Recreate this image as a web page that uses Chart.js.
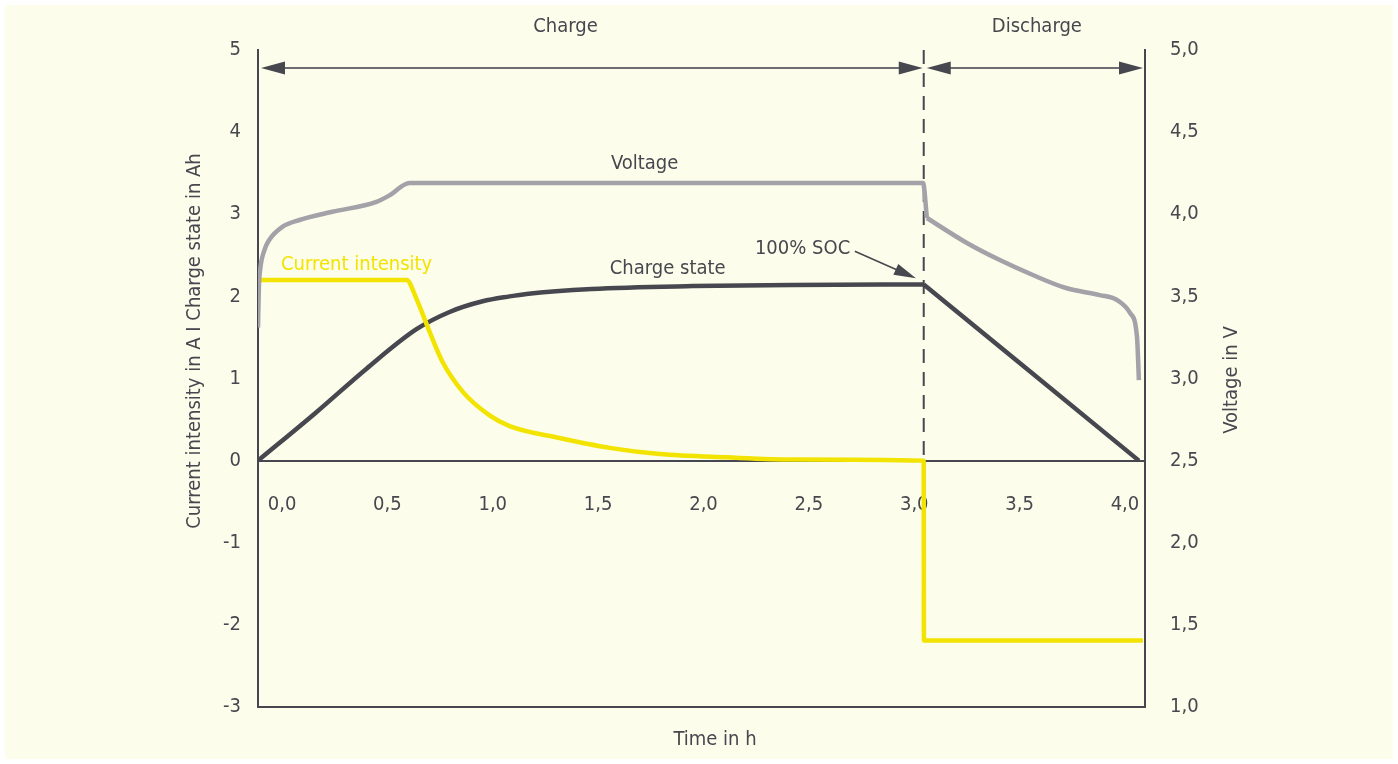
<!DOCTYPE html>
<html>
<head>
<meta charset="utf-8">
<script src="https://cdn.jsdelivr.net/npm/chart.js@4.4.1/dist/chart.umd.min.js"></script>
<style>
  html, body { margin: 0; padding: 0; background: #ffffff; }
  #paper { position: absolute; left: 5px; top: 5px; width: 1388px; height: 754px; background: #fcfdea; }
  #box { position: absolute; left: 0; top: 0; width: 1398px; height: 764px; }
</style>
</head>
<body>
<div id="paper"></div>
<div id="box"><canvas id="chart"></canvas></div>
<script>
// time axis ticks (h)
const timeTicks = [0, 0.5, 1, 1.5, 2, 2.5, 3, 3.5, 4];

// current intensity in A
const currentT = [-0.114, 0.591, 0.638, 0.70, 0.762, 0.857, 0.985, 1.08, 1.317, 1.554, 1.792, 2.11, 2.423, 3.045, 3.046, 4.085];
const currentA = [2.2, 2.2, 1.97, 1.57, 1.20, 0.84, 0.55, 0.42, 0.275, 0.155, 0.08, 0.04, 0.015, 0, -2.19, -2.19];

// charge state in Ah (charging, then discharging)
const stateT = [-0.114, 0.163, 0.401, 0.638, 0.795, 0.952, 1.08, 1.16, 1.47, 1.95, 2.42, 3.045];
const stateAh = [0, 0.59, 1.12, 1.60, 1.81, 1.94, 2.00, 2.03, 2.09, 2.125, 2.14, 2.145];
const dischargeT = [3.045, 4.066];
const dischargeAh = [2.145, 0];

// voltage in V (charging, then discharging)
const voltT = [-0.114, -0.110, -0.104, -0.084, -0.06, 0.0, 0.083, 0.239, 0.448, 0.51, 0.605, 3.042, 3.06];
const voltV = [3.31, 3.55, 3.66, 3.78, 3.845, 3.922, 3.965, 4.015, 4.075, 4.115, 4.19, 4.19, 3.977];
const voltDisT = [3.06, 3.25, 3.406, 3.563, 3.72, 3.88, 3.962, 4.024, 4.057, 4.066];
const voltDisV = [3.977, 3.825, 3.721, 3.63, 3.551, 3.508, 3.478, 3.399, 3.253, 2.99];

const switchT = 3.045;

const ink = '#47474f';
const yellow = '#f2e300';
const grey = '#a2a2a8';
const fontFamily = '"Liberation Sans Narrow", "DejaVu Sans Condensed", Roboto, sans-serif';

function pts(xs, ys) {
  return xs.map((x, i) => ({ x: x, y: ys[i] }));
}
function comma(v) {
  return v.toFixed(1).replace('.', ',');
}

function arrowHead(ctx, tipX, y, dir) {
  ctx.beginPath();
  ctx.moveTo(tipX, y);
  ctx.lineTo(tipX - dir * 24, y - 6.5);
  ctx.lineTo(tipX - dir * 24, y + 6.5);
  ctx.closePath();
  ctx.fill();
}

const decor = {
  id: 'decor',
  beforeDatasetsDraw(chart) {
    const ctx = chart.ctx, x = chart.scales.x, y = chart.scales.y;
    const px = x.getPixelForValue(switchT);
    ctx.save();
    ctx.strokeStyle = ink;
    ctx.lineWidth = 2;
    ctx.setLineDash([14, 9]);
    ctx.beginPath();
    ctx.moveTo(px, chart.chartArea.top);
    ctx.lineTo(px, y.getPixelForValue(0));
    ctx.stroke();
    ctx.restore();
  },
  afterDraw(chart) {
    const ctx = chart.ctx, x = chart.scales.x, y = chart.scales.y;
    const area = chart.chartArea;
    const px = x.getPixelForValue(switchT);
    ctx.save();

    // phase arrows
    const ay = area.top + 18;
    ctx.strokeStyle = '#6e6e72';
    ctx.lineWidth = 2;
    ctx.beginPath();
    ctx.moveTo(area.left + 10, ay);
    ctx.lineTo(px - 10, ay);
    ctx.moveTo(px + 10, ay);
    ctx.lineTo(area.right - 10, ay);
    ctx.stroke();
    ctx.fillStyle = ink;
    arrowHead(ctx, area.left + 3, ay, -1);
    arrowHead(ctx, px - 1, ay, 1);
    arrowHead(ctx, px + 3, ay, -1);
    arrowHead(ctx, area.right - 2, ay, 1);

    ctx.font = '20px ' + fontFamily;
    ctx.textAlign = 'center';
    ctx.textBaseline = 'middle';
    ctx.fillText('Charge', x.getPixelForValue(1.345), area.top - 23);
    ctx.fillText('Discharge', x.getPixelForValue(3.582), area.top - 23);

    // curve labels
    ctx.fillText('Voltage', x.getPixelForValue(1.721), y.getPixelForValue(3.61));
    ctx.fillText('Charge state', x.getPixelForValue(1.83), y.getPixelForValue(2.33));
    ctx.fillText('100% SOC', x.getPixelForValue(2.47), y.getPixelForValue(2.575));
    ctx.fillStyle = yellow;
    ctx.fillText('Current intensity', x.getPixelForValue(0.354), y.getPixelForValue(2.39));

    // SOC pointer
    const sx = x.getPixelForValue(2.718), sy = y.getPixelForValue(2.55);
    const tx = x.getPixelForValue(3.008), ty = y.getPixelForValue(2.22);
    const ang = Math.atan2(ty - sy, tx - sx);
    ctx.strokeStyle = ink;
    ctx.fillStyle = ink;
    ctx.lineWidth = 1.5;
    ctx.beginPath();
    ctx.moveTo(sx, sy);
    ctx.lineTo(tx - 18 * Math.cos(ang), ty - 18 * Math.sin(ang));
    ctx.stroke();
    ctx.beginPath();
    ctx.moveTo(tx, ty);
    ctx.lineTo(tx - 22 * Math.cos(ang) + 6 * Math.sin(ang), ty - 22 * Math.sin(ang) - 6 * Math.cos(ang));
    ctx.lineTo(tx - 22 * Math.cos(ang) - 6 * Math.sin(ang), ty - 22 * Math.sin(ang) + 6 * Math.cos(ang));
    ctx.closePath();
    ctx.fill();

    // axis titles
    ctx.fillStyle = ink;
    ctx.fillText('Time in h', 715, area.bottom + 33);
    ctx.save();
    ctx.translate(195, 341);
    ctx.rotate(-Math.PI / 2);
    ctx.fillText('Current intensity in A I Charge state in Ah', 0, 0);
    ctx.restore();
    ctx.save();
    ctx.translate(area.right + 87, 380);
    ctx.rotate(-Math.PI / 2);
    ctx.fillText('Voltage in V', 0, 0);
    ctx.restore();

    ctx.restore();
  }
};

const lineStyle = {
  pointRadius: 0,
  borderWidth: 4.5,
  fill: false,
  cubicInterpolationMode: 'monotone'
};

new Chart(document.getElementById('chart'), {
  type: 'line',
  data: {
    datasets: [
      Object.assign({ label: 'Voltage', data: pts(voltT, voltV), borderColor: grey, yAxisID: 'yV' }, lineStyle),
      Object.assign({ label: 'Voltage discharge', data: pts(voltDisT, voltDisV), borderColor: grey, yAxisID: 'yV' }, lineStyle),
      Object.assign({ label: 'Current intensity', data: pts(currentT, currentA), borderColor: yellow, yAxisID: 'y' }, lineStyle),
      Object.assign({ label: 'Charge state', data: pts(stateT, stateAh), borderColor: ink, yAxisID: 'y' }, lineStyle),
      Object.assign({ label: 'Discharge state', data: pts(dischargeT, dischargeAh), borderColor: ink, yAxisID: 'y' }, lineStyle)
    ]
  },
  options: {
    responsive: true,
    maintainAspectRatio: false,
    animation: false,
    layout: { padding: { top: 50 } },
    plugins: { legend: { display: false }, tooltip: { enabled: false } },
    scales: {
      x: {
        type: 'linear',
        min: -0.114,
        max: 4.095,
        position: { y: 0 },
        grid: { display: false },
        border: { display: true, color: ink, width: 2 },
        afterBuildTicks: s => { s.ticks = timeTicks.map(v => ({ value: v })); },
        ticks: { color: ink, padding: 24, font: { family: fontFamily, size: 20 }, callback: v => comma(v), maxRotation: 0 }
      },
      x2: {
        type: 'linear',
        min: -0.114,
        max: 4.095,
        position: 'bottom',
        grid: { display: false },
        border: { display: true, color: ink, width: 2 },
        ticks: { display: false },
        afterFit: s => { s.height = 57; }
      },
      y: {
        position: 'left',
        min: -3,
        max: 5,
        grid: { display: false },
        border: { display: true, color: ink, width: 2 },
        ticks: { stepSize: 1, color: ink, padding: 9, font: { family: fontFamily, size: 20 } },
        afterFit: s => { s.width = 258; }
      },
      yV: {
        position: 'right',
        min: 1,
        max: 5,
        grid: { display: false },
        border: { display: true, color: ink, width: 2 },
        ticks: { stepSize: 0.5, color: ink, padding: 17, font: { family: fontFamily, size: 20 }, callback: v => comma(v) },
        afterFit: s => { s.width = 253; }
      }
    }
  },
  plugins: [decor]
});
</script>
</body>
</html>
